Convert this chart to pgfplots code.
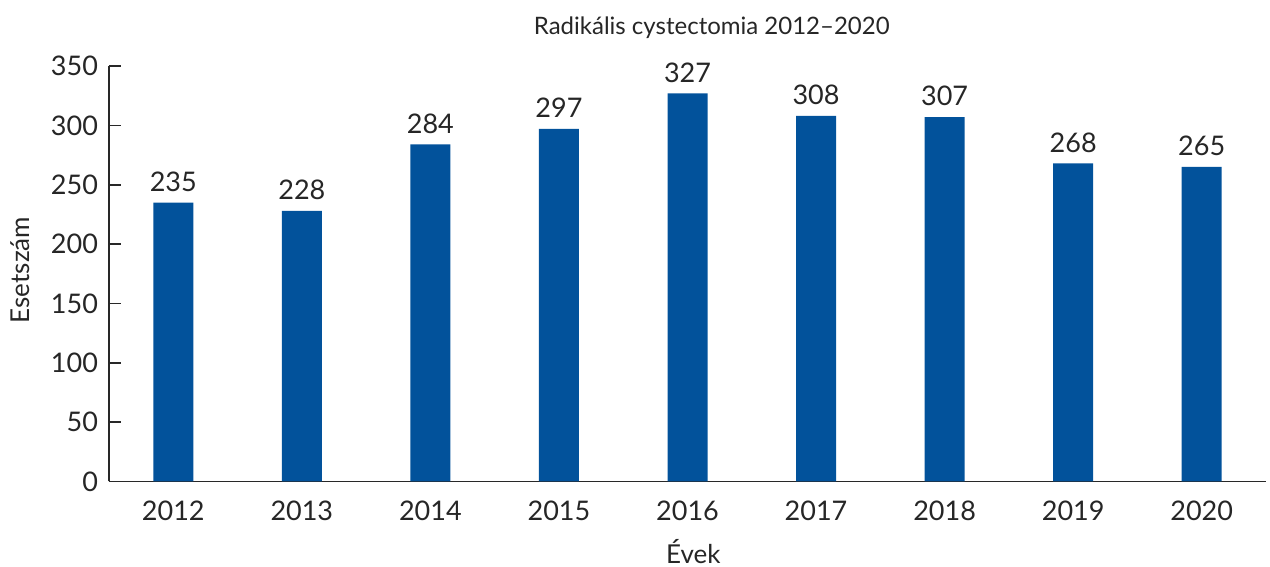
\documentclass[border=0pt]{standalone}
\usepackage{fontspec}
\setmainfont{Lato}
\usepackage{pgfplots}
\pgfplotsset{compat=1.18}
\definecolor{barblue}{RGB}{2,82,155}
\definecolor{axisgray}{RGB}{40,40,40}
\begin{document}
\begin{tikzpicture}
\begin{axis}[
  scale only axis,
  width=578.5pt, height=207.75pt,
  xmin=-0.5, xmax=8.5,
  ymin=0, ymax=350,
  ytick={0,50,...,350},
  xtick={0,...,8},
  xticklabels={2012,2013,2014,2015,2016,2017,2018,2019,2020},
  axis lines=left,
  axis line style={-, axisgray, line width=0.8pt},
  every tick/.style={axisgray, line width=0.8pt},
  major tick length=6pt,
  x tick style={draw=none},
  ytick align=inside,
  tick label style={font=\fontsize{13.5}{16}\selectfont, text=black!85},
  yticklabel style={xshift=-2pt},
  xticklabel style={yshift=-3pt},
  /pgf/number format/assume math mode=true,
  clip=false,
  nodes near coords,
  every node near coord/.append style={font=\fontsize{13.5}{16}\selectfont, text=black!85, yshift=2pt},
]
\addplot[ybar, bar width=20pt, fill=barblue, draw=none] coordinates {
  (0,235) (1,228) (2,284) (3,297) (4,327) (5,308) (6,307) (7,268) (8,265)
};
\node[font=\fontsize{12}{14}\selectfont, text=black!85] at (rel axis cs:0.521,1.091) {Radikális cystectomia 2012–2020};
\node[font=\fontsize{13}{15}\selectfont, text=black!85, inner sep=0pt] at (rel axis cs:0.505,-0.168) {Évek};
\node[font=\fontsize{13}{15}\selectfont, text=black!85, rotate=90] at (rel axis cs:-0.077,0.509) {Esetszám};
\end{axis}
\pgfresetboundingbox
\path[use as bounding box] (-54.5pt,-42.75pt) rectangle (580.5pt,240.75pt);
\end{tikzpicture}
\end{document}
